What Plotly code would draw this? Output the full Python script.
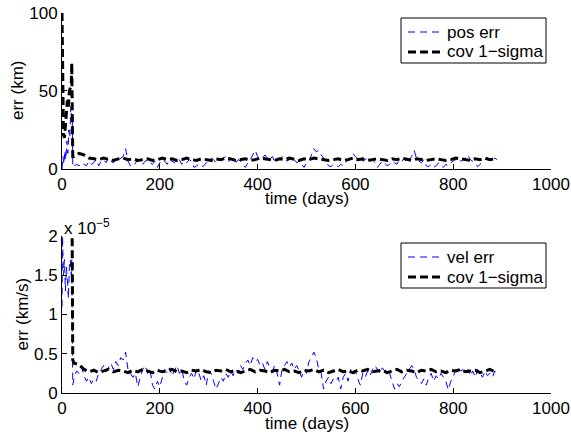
import plotly.graph_objects as go

# ---------------- data ----------------
# top panel: position error and covariance (km)
t_pos_early = [0, 2, 4, 6, 8, 10, 12, 14, 16, 18, 20, 21, 22, 23]
pos_err_early = [0, 8, 3, 12, 6, 18, 10, 25, 20, 40, 30, 35, 2, 3]
t_poscov_early = [0, 1, 3, 5, 8, 11, 13, 15, 17, 19, 20, 22]
pos_cov_early = [100, 60, 22, 20, 30, 44, 40, 50, 52, 55, 68, 8]

t_grid5 = list(range(25, 895, 5))     # 25 .. 890
t_grid10 = list(range(25, 895, 10))   # 25 .. 885

pos_err_late = [
    2, 3, 2, 4, 3, 2, 5, 3, 4, 6,
    2, 5, 6, 4, 7, 5, 4, 6, 5, 7,
    8, 13, 5, 2, 1.5, 4, 6, 5, 3, 5,
    6, 4, 3, 5, 1, 4, 6, 5, 3, 6,
    5, 4, 7, 6, 3, 5, 4, 6, 5, 1,
    2, 3, 1.5, 2, 4, 5, 7, 6, 4, 5,
    6, 7, 8, 5, 6, 7, 4, 6, 5, 3,
    1, 4, 6, 9, 12, 8, 6, 7, 9, 7,
    6, 8, 5, 7, 6, 8, 7, 5, 6, 8,
    6, 4, 5, 3, 1, 4, 5, 9, 13, 11,
    12, 9, 7, 5, 2, 1.5, 3, 2, 1.5, 3,
    2, 4, 6, 7, 10, 8, 6, 7, 5, 6,
    7, 5, 6, 4, 1, 3, 5, 4, 2, 3,
    5, 4, 3, 6, 5, 7, 4, 6, 8, 12,
    7, 5, 4, 6, 2, 1.5, 3, 1, 2, 4,
    2, 1, 3, 2, 4, 5, 6, 7, 5, 6,
    7, 9, 6, 5, 4, 1.5, 3, 5, 6, 7,
    6, 5, 7, 6,
]
pos_cov_late = [
    8, 10, 9, 7, 6.5, 6, 7, 6, 5.5, 6.5,
    7, 6, 6.5, 5.5, 6, 6.5, 5.5, 6, 7, 6,
    6.5, 5.5, 6, 7, 6, 5.5, 6.5, 6, 5.5, 6.5,
    6, 7, 6.5, 5.5, 6, 6.5, 5.5, 6, 7, 6.5,
    6, 5.5, 6.5, 6, 7, 6, 5.5, 6.5, 6, 7,
    6.5, 6, 5.5, 6, 6.5, 5.5, 6, 7, 6, 6.5,
    5.5, 6, 6.5, 6, 5.5, 6.5, 6, 7, 6, 5.5,
    6.5, 6, 5.5, 6, 6.5, 6, 5.5, 6, 7, 6.5,
    6, 5.5, 6.5, 6, 7, 6, 6.5,
]

# bottom panel: velocity error and covariance (units of 1e-5 km/s)
t_vel_early = [0, 1, 3, 5, 7, 9, 11, 13, 15, 17, 19, 20, 22]
vel_err_early = [1.1, 2.0, 1.5, 1.7, 1.3, 1.6, 1.45, 1.2, 1.6, 1.7, 1.5, 1.7, 0.1]
t_velcov_early = [0, 10, 20, 22]
vel_cov_early = [9, 6, 3, 0.42]

vel_err_late = [
    0.2, 0.28, 0.25, 0.33, 0.22, 0.15, 0.2, 0.12, 0.18, 0.15,
    0.25, 0.3, 0.35, 0.27, 0.32, 0.38, 0.3, 0.4, 0.35, 0.45,
    0.42, 0.52, 0.3, 0.25, 0.2, 0.25, 0.08, 0.2, 0.3, 0.35,
    0.25, 0.3, 0.1, 0.05, 0.15, 0.08, 0.2, 0.3, 0.25, 0.32,
    0.22, 0.28, 0.35, 0.25, 0.3, 0.15, 0.1, 0.2, 0.25, 0.18,
    0.3, 0.25, 0.15, 0.22, 0.1, 0.28, 0.25, 0.15, 0.05, 0.12,
    0.2, 0.15, 0.25, 0.2, 0.28, 0.22, 0.3, 0.25, 0.35, 0.3,
    0.38, 0.42, 0.35, 0.45, 0.4, 0.43, 0.35, 0.38, 0.3, 0.4,
    0.32, 0.28, 0.35, 0.25, 0.1, 0.3, 0.35, 0.4, 0.33, 0.38,
    0.3, 0.35, 0.28, 0.2, 0.3, 0.25, 0.4, 0.45, 0.52, 0.45,
    0.3, 0.25, 0.05, 0.15, 0.2, 0.12, 0.18, 0.15, 0.2, 0.05,
    0.2, 0.25, 0.15, 0.3, 0.22, 0.28, 0.18, 0.1, 0.25, 0.2,
    0.28, 0.22, 0.3, 0.35, 0.3, 0.25, 0.32, 0.28, 0.3, 0.25,
    0.15, 0.05, 0.12, 0.08, 0.15, 0.2, 0.25, 0.3, 0.35, 0.3,
    0.2, 0.15, 0.12, 0.18, 0.1, 0.2, 0.25, 0.15, 0.22, 0.18,
    0.25, 0.2, 0.15, 0.04, 0.15, 0.2, 0.3, 0.33, 0.28, 0.3,
    0.25, 0.3, 0.22, 0.28, 0.2, 0.3, 0.25, 0.2, 0.28, 0.22,
    0.25, 0.2, 0.28, 0.22,
]
vel_cov_late = [
    0.38, 0.36, 0.3, 0.27, 0.29, 0.26, 0.28, 0.3, 0.27, 0.29,
    0.28, 0.26, 0.29, 0.27, 0.3, 0.28, 0.26, 0.29, 0.27, 0.28,
    0.3, 0.27, 0.28, 0.26, 0.29, 0.28, 0.3, 0.27, 0.26, 0.29,
    0.28, 0.3, 0.27, 0.29, 0.26, 0.28, 0.3, 0.27, 0.29, 0.28,
    0.26, 0.29, 0.28, 0.3, 0.27, 0.28, 0.26, 0.29, 0.28, 0.3,
    0.27, 0.29, 0.26, 0.28, 0.3, 0.27, 0.28, 0.26, 0.29, 0.28,
    0.3, 0.27, 0.28, 0.29, 0.26, 0.28, 0.3, 0.27, 0.29, 0.28,
    0.26, 0.29, 0.28, 0.3, 0.27, 0.28, 0.26, 0.29, 0.28, 0.3,
    0.27, 0.28, 0.29, 0.26, 0.28, 0.3, 0.27,
]

x_ticks = [0, 200, 400, 600, 800, 1000]
y_ticks_top = [0, 50, 100]
y_ticks_bot = [0, 0.5, 1, 1.5, 2]
y_ticktext_bot = ["0", "0.5", "1", "1.5", "2"]

top_labels = ["pos err", "cov 1\u2212sigma"]
bot_labels = ["vel err", "cov 1\u2212sigma"]

# ---------------- figure ----------------
FONT = "Liberation Sans, Arial, Helvetica, sans-serif"
FS = 17
BLUE = "#0000ff"
BLUE_LINE = dict(color=BLUE, width=1, dash="7px,5px")
BLACK_LINE = dict(color="black", width=3, dash="8px,4px")

fig = go.Figure()

fig.add_trace(go.Scatter(
    x=t_pos_early + t_grid5, y=pos_err_early + pos_err_late,
    mode="lines", name=top_labels[0], xaxis="x", yaxis="y", line=BLUE_LINE))
fig.add_trace(go.Scatter(
    x=t_poscov_early + t_grid10, y=pos_cov_early + pos_cov_late,
    mode="lines", name=top_labels[1], xaxis="x", yaxis="y", line=BLACK_LINE))
fig.add_trace(go.Scatter(
    x=t_vel_early + t_grid5, y=vel_err_early + vel_err_late,
    mode="lines", name=bot_labels[0], xaxis="x2", yaxis="y2", line=BLUE_LINE))
fig.add_trace(go.Scatter(
    x=t_velcov_early + t_grid10, y=vel_cov_early + vel_cov_late,
    mode="lines", name=bot_labels[1], xaxis="x2", yaxis="y2", line=BLACK_LINE))

axis_common = dict(
    showline=True, linecolor="black", linewidth=1, mirror=False,
    ticks="inside", ticklen=5, tickcolor="black", tickwidth=1,
    showgrid=False, zeroline=False, automargin=False,
    tickfont=dict(family=FONT, size=FS, color="black"),
)

txt_font = dict(family=FONT, size=FS, color="black")
annotations = []
shapes = []

# axis titles
for xa, ya, ytitle, yshift_x, xshift_y in [
    ("x", "y", "err (km)", -30, -44),
    ("x2", "y2", "err (km/s)", -30, -40),
]:
    annotations.append(dict(text="time (days)", xref=f"{xa} domain", yref=f"{ya} domain",
                            x=0.5, y=0, xanchor="center", yanchor="middle",
                            yshift=yshift_x, showarrow=False, font=txt_font))
    annotations.append(dict(text=ytitle, xref=f"{xa} domain", yref=f"{ya} domain",
                            x=0, y=0.5, xanchor="center", yanchor="middle", textangle=-90,
                            xshift=xshift_y, showarrow=False, font=txt_font))

# exponent label
annotations.append(dict(
    text="x 10<sup>\u22125</sup>", xref="x2 domain", yref="y2 domain",
    x=0.0, y=1.0, xanchor="left", yanchor="bottom", showarrow=False,
    font=txt_font, yshift=-4))

# legend boxes (paper coords)
def add_legend(y_top, labels):
    box_h = 45 / 380.0
    x0, x1 = 339 / 489.0, 484 / 489.0
    shapes.append(dict(type="rect", xref="paper", yref="paper", x0=x0, x1=x1,
                       y0=y_top - box_h, y1=y_top,
                       line=dict(color="black", width=1), fillcolor="white", layer="above"))
    rows = [y_top - 14 / 380.0, y_top - 34 / 380.0]
    styles = [BLUE_LINE, BLACK_LINE]
    for yy, st, lab in zip(rows, styles, labels):
        shapes.append(dict(type="line", xref="paper", yref="paper",
                           x0=346 / 489.0, x1=379 / 489.0, y0=yy, y1=yy,
                           line=st, layer="above"))
        annotations.append(dict(text=lab, xref="paper", yref="paper", x=383 / 489.0, y=yy,
                                xanchor="left", yanchor="middle", showarrow=False,
                                font=txt_font))

add_legend((393 - 18) / 380.0, top_labels)
add_legend((393 - 243) / 380.0, bot_labels)

fig.update_layout(
    width=571, height=439,
    margin=dict(l=62, r=20, t=13, b=46, autoexpand=False),
    paper_bgcolor="white", plot_bgcolor="white",
    font=txt_font,
    showlegend=False,
    xaxis=dict(domain=[0, 1], anchor="y", range=[0, 1000], tickvals=x_ticks, **axis_common),
    yaxis=dict(domain=[0.5895, 1.0], anchor="x", range=[0, 100], tickvals=y_ticks_top,
               **axis_common),
    xaxis2=dict(domain=[0, 1], anchor="y2", range=[0, 1000], tickvals=x_ticks, **axis_common),
    yaxis2=dict(domain=[0, 0.4132], anchor="x2", range=[0, 2], tickvals=y_ticks_bot,
                ticktext=y_ticktext_bot, **axis_common),
    annotations=annotations,
    shapes=shapes,
)

# remove the default 8px page margin so the figure fills the window exactly
fig.write_html("out.html", config={"displayModeBar": False},
               post_script="document.body.style.margin='0px';")
